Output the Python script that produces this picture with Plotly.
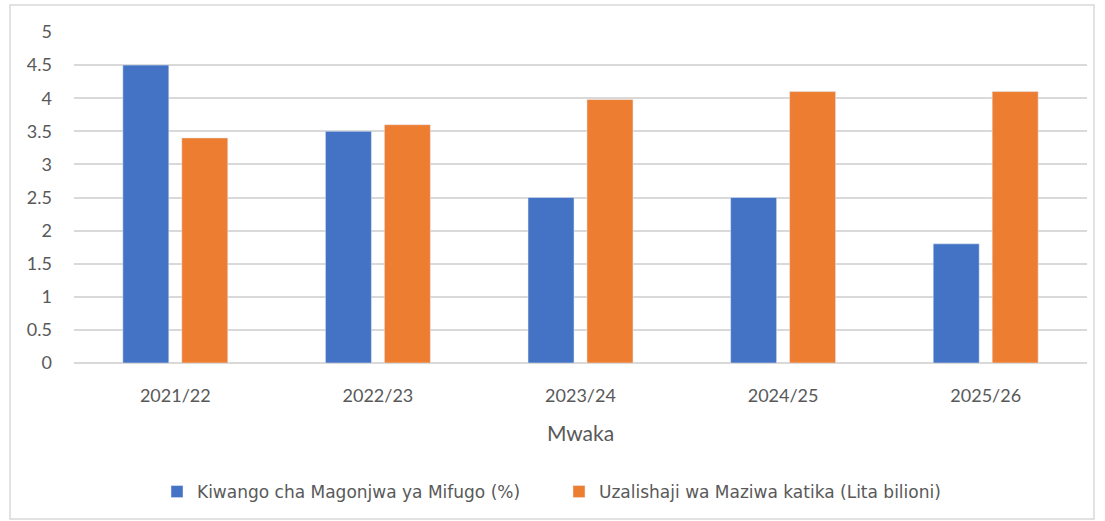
import plotly.graph_objects as go

categories = ["2021/22", "2022/23", "2023/24", "2024/25", "2025/26"]
disease_rate = [4.5, 3.5, 2.5, 2.5, 1.8]
milk_production = [3.4, 3.6, 3.98, 4.1, 4.1]
series_names = ["Kiwango cha Magonjwa ya Mifugo (%)", "Uzalishaji wa Maziwa katika (Lita bilioni)"]
y_ticks = [0, 0.5, 1, 1.5, 2, 2.5, 3, 3.5, 4, 4.5, 5]
y_ticktext = ["0", "0.5", "1", "1.5", "2", "2.5", "3", "3.5", "4", "4.5", "5"]

W, H = 1105, 521
ml, mr, mt, mb = 74, 18, 32, 158
pw, ph = W - ml - mr, H - mt - mb

def px_x(x):
    return (x - ml) / pw

def px_y(y):
    return (H - mb - y) / ph

FONT = "Lato, 'Open Sans', sans-serif"
GREY = "#595959"

fig = go.Figure()
fig.add_trace(go.Bar(x=categories, y=disease_rate, name=series_names[0], marker_color="#4472C4"))
fig.add_trace(go.Bar(x=categories, y=milk_production, name=series_names[1], marker_color="#ED7D31"))

fig.update_layout(
    width=W, height=H,
    margin=dict(l=ml, r=mr, t=mt, b=mb, autoexpand=False),
    paper_bgcolor="white", plot_bgcolor="white",
    barmode="group", bargap=0.418, bargroupgap=0.22,
    font=dict(family=FONT, color=GREY, size=18),
    showlegend=True,
    legend=dict(orientation="h", x=px_x(157), xanchor="left", y=px_y(492), yanchor="middle",
                font=dict(size=17, color=GREY, family="'DejaVu Sans', sans-serif"),
                itemwidth=30, traceorder="normal", entrywidth=357),
    xaxis=dict(title=dict(text="Mwaka", font=dict(size=21, color=GREY), standoff=21),
               showgrid=False, showline=False, ticks="", ticklabelstandoff=20,
               tickfont=dict(size=18, color=GREY), automargin=False),
    yaxis=dict(range=[0, 5], tickvals=y_ticks, ticktext=y_ticktext, showgrid=True,
               gridcolor="#d9d9d9", gridwidth=1.5, zeroline=True, zerolinecolor="#d9d9d9",
               zerolinewidth=1.5, showline=False, ticks="", ticklabelstandoff=21,
               tickfont=dict(size=18, color=GREY), automargin=False),
    shapes=[dict(type="rect", xref="paper", yref="paper",
                 x0=px_x(10), x1=px_x(1094), y0=px_y(519), y1=px_y(5),
                 line=dict(color="#d9d9d9", width=1.5), layer="below")],
)

fig.write_html("out.html", config={"displayModeBar": False},
               post_script="document.body.style.margin='0px';")
